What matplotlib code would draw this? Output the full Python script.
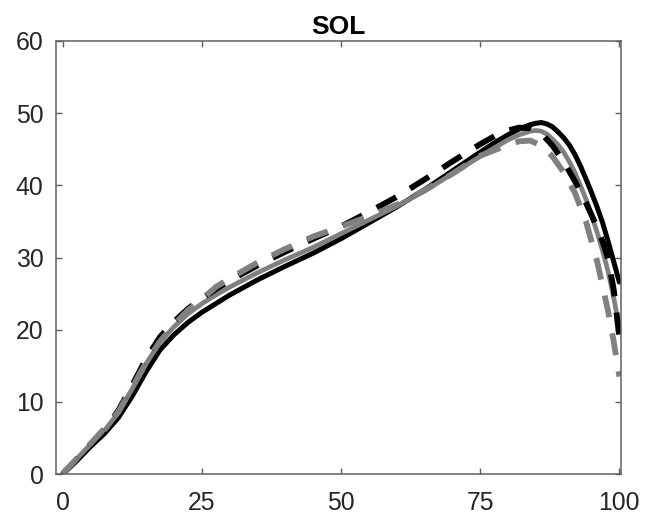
import numpy as np
from matplotlib import pyplot as plt

plt.rcParams['font.family'] = ['Liberation Sans', 'DejaVu Sans']

# % of cycle and values
x_bs = [0, 2.5, 5, 7.5, 10, 12.5, 15, 17.5, 20, 22.5, 25, 27.5, 30, 35, 40, 45, 50,
        55, 60, 65, 70, 75, 78, 80, 82, 84, 85, 86, 87, 88, 89, 90, 91, 92, 93, 94,
        95, 96, 97, 98, 99, 100]
black_solid = [0, 1.8, 3.8, 5.6, 7.8, 10.8, 14.2, 17.2, 19.3, 21.0, 22.4, 23.6, 24.8,
               26.9, 28.8, 30.6, 32.6, 34.8, 37.0, 39.4, 42.0, 44.6, 46.1, 47.0, 47.8,
               48.4, 48.6, 48.7, 48.5, 48.1, 47.4, 46.6, 45.6, 44.3, 42.7, 40.9,
               39.0, 37.0, 34.8, 32.2, 29.4, 26.6]

x_gs = [0, 2.5, 5, 7.5, 10, 12.5, 15, 17.5, 20, 22.5, 25, 27.5, 30, 35, 40, 45, 50,
        55, 60, 65, 70, 75, 78, 80, 82, 84, 85, 86, 87, 88, 89, 90, 91, 92, 93, 94,
        95, 96, 97, 98, 99, 100]
gray_solid = [0, 2.1, 4.1, 6.0, 8.5, 11.8, 15.3, 18.3, 20.4, 22.2, 23.6, 24.8, 25.9,
              27.9, 29.7, 31.4, 33.3, 35.2, 37.1, 39.2, 41.6, 44.0, 45.4, 46.3, 47.0,
              47.5, 47.6, 47.5, 47.1, 46.4, 45.6, 44.6, 43.3, 41.8, 40.0, 38.1,
              35.9, 33.5, 30.9, 28.0, 24.4, 20.3]

x_bd = [0, 2.5, 5, 7.5, 10, 12.5, 15, 17.5, 20, 22.5, 25, 27.5, 30, 35, 40, 45, 50,
        55, 60, 65, 70, 75, 78, 80, 82, 84, 86, 88, 90, 92, 94, 96, 97, 98, 99, 100]
black_dashed = [0, 2.0, 4.1, 6.1, 8.8, 12.3, 16.0, 19.0, 21.1, 22.9, 24.3, 25.6, 26.8,
                28.9, 30.8, 32.6, 34.3, 36.3, 38.4, 40.8, 43.3, 45.7, 47.0, 47.6, 48.0,
                47.9, 47.2, 45.5, 43.3, 40.6, 37.6, 34.2, 32.2, 29.8, 25.5, 19.0]

x_gd = [0, 2.5, 5, 7.5, 10, 12.5, 15, 17.5, 20, 22.5, 25, 27.5, 30, 35, 40, 45, 50,
        55, 60, 65, 70, 75, 78, 80, 82, 84, 86, 88, 90, 92, 94, 96, 98, 99, 100]
gray_dashed = [0, 2.1, 4.2, 6.3, 8.6, 12.0, 15.5, 18.4, 20.7, 22.7, 24.2, 25.9, 27.1,
               29.3, 31.2, 32.9, 34.3, 35.7, 37.3, 39.3, 41.6, 44.1, 45.0, 45.6, 46.1,
               46.2, 45.5, 44.0, 41.8, 39.0, 35.0, 29.5, 22.5, 18.3, 13.5]

x_ticks = [0, 25, 50, 75, 100]
y_ticks = [0, 10, 20, 30, 40, 50, 60]
title = 'SOL'

gray = '#808080'
axis_col = '#606060'
dash = (0, (3.8, 2.8))

fig = plt.figure(figsize=(6.47, 5.18), dpi=100)
ax = fig.add_axes([56 / 647, 1 - 474 / 518, (621 - 56) / 647, (474 - 41) / 518])

ax.plot(x_bs, black_solid, color='black', lw=3.6, solid_capstyle='round')
ax.plot(x_gs, gray_solid, color=gray, lw=3.4, solid_capstyle='round')
ax.plot(x_bd, black_dashed, color='black', lw=4.2, linestyle=dash)
ax.plot(x_gd, gray_dashed, color=gray, lw=4.2, linestyle=dash)

ax.set_xlim(-1.2, 100.3)
ax.set_ylim(0, 60)
ax.set_xticks(x_ticks)
ax.set_yticks(y_ticks)
ax.tick_params(direction='in', length=4.3, width=1, color=axis_col,
               labelsize=17.8, labelcolor='#262626', top=True, right=True)
ax.tick_params(axis='x', pad=12)
ax.tick_params(axis='y', pad=9)
for s in ax.spines.values():
    s.set_color(axis_col)
    s.set_linewidth(1.1)

ax.set_title(title, fontsize=19, fontweight='bold', pad=5)

fig.savefig('out.png', dpi=100)
